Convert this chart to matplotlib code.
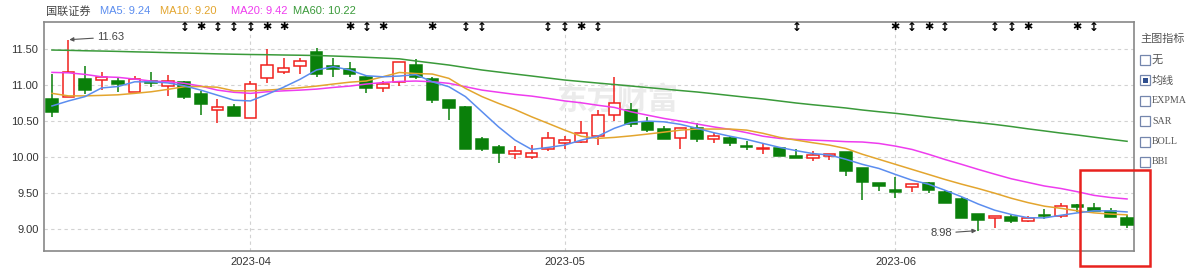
"""K-line chart for 国联证券 with MA5/10/20/60 overlays."""
import matplotlib
matplotlib.use("Agg")
import matplotlib.pyplot as plt
from matplotlib.patches import Rectangle

plt.rcParams["font.family"] = ["Liberation Sans", "Noto Sans CJK SC", "DejaVu Sans"]

W, H = 1200, 273

RED = "#f0201c"
GREEN = "#0a800a"
C_MA5 = "#5b8def"
C_MA10 = "#e3a52e"
C_MA20 = "#ee3cee"
C_MA60 = "#3a9a3a"

stock_name = "国联证券"

opens = [10.81, 10.83, 11.09, 11.065, 11.056, 10.91, 11.045, 10.99, 11.045, 10.875,
         10.66, 10.70, 10.55, 11.093, 11.18, 11.26, 11.46, 11.264, 11.22, 11.115,
         10.96, 11.04, 11.278, 11.09, 10.79, 10.70, 10.25, 10.135, 10.04, 10.00,
         10.11, 10.19, 10.21, 10.29, 10.58, 10.65, 10.49, 10.39, 10.27, 10.40,
         10.25, 10.27, 10.157, 10.11, 10.13, 10.014, 9.99, 10.02, 10.075, 9.843,
         9.635, 9.55, 9.58, 9.635, 9.52, 9.417, 9.21, 9.15, 9.17, 9.115,
         9.185, 9.185, 9.32, 9.30, 9.25, 9.16]
highs = [11.15, 11.63, 11.27, 11.185, 11.116, 11.125, 11.18, 11.14, 11.05, 10.92,
         10.80, 10.736, 11.056, 11.495, 11.37, 11.37, 11.51, 11.37, 11.32, 11.14,
         11.056, 11.315, 11.357, 11.115, 10.79, 10.71, 10.28, 10.167, 10.16, 10.167,
         10.35, 10.30, 10.50, 10.66, 11.115, 10.746, 10.56, 10.435, 10.41, 10.476,
         10.34, 10.30, 10.22, 10.19, 10.13, 10.107, 10.083, 10.04, 10.075, 9.843,
         9.635, 9.73, 9.63, 9.66, 9.54, 9.45, 9.21, 9.18, 9.194, 9.18,
         9.275, 9.365, 9.35, 9.357, 9.30, 9.194]
lows = [10.56, 10.83, 10.875, 10.93, 10.91, 10.907, 10.97, 10.85, 10.80, 10.59,
        10.48, 10.575, 10.55, 11.03, 11.16, 11.16, 11.107, 11.107, 11.115, 10.885,
        10.90, 10.99, 11.09, 10.746, 10.51, 10.12, 10.09, 9.92, 9.97, 9.97,
        10.09, 10.12, 10.19, 10.167, 10.50, 10.42, 10.35, 10.25, 10.107, 10.21,
        10.19, 10.157, 10.097, 10.05, 10.02, 9.99, 9.944, 9.96, 9.74, 9.41,
        9.53, 9.44, 9.52, 9.50, 9.37, 9.16, 8.98, 9.02, 9.09, 9.10,
        9.14, 9.16, 9.245, 9.255, 9.17, 9.02]
closes = [10.62, 11.18, 10.93, 11.107, 11.014, 11.09, 11.035, 11.056, 10.83, 10.735,
          10.70, 10.575, 11.02, 11.278, 11.24, 11.34, 11.16, 11.22, 11.16, 10.955,
          11.01, 11.315, 11.115, 10.79, 10.676, 10.12, 10.12, 10.06, 10.09, 10.06,
          10.27, 10.236, 10.33, 10.58, 10.754, 10.46, 10.375, 10.25, 10.41, 10.246,
          10.29, 10.19, 10.135, 10.13, 10.02, 9.99, 10.03, 10.04, 9.81, 9.657,
          9.60, 9.52, 9.625, 9.54, 9.37, 9.16, 9.125, 9.18, 9.115, 9.15,
          9.178, 9.32, 9.315, 9.255, 9.17, 9.065]

ma5 = [10.71, 10.78, 10.84, 10.96, 10.98, 11.045, 11.045, 11.03, 10.99, 10.93,
       10.86, 10.79, 10.78, 10.87, 10.97, 11.08, 11.21, 11.255, 11.21, 11.13,
       11.115, 11.125, 11.145, 11.045, 10.977, 10.84, 10.63, 10.42, 10.236, 10.107,
       10.135, 10.167, 10.236, 10.29, 10.40, 10.48, 10.50, 10.49, 10.455, 10.40,
       10.34, 10.29, 10.246, 10.19, 10.135, 10.09, 10.05, 10.03, 9.97, 9.90,
       9.843, 9.76, 9.68, 9.625, 9.54, 9.45, 9.35, 9.264, 9.205, 9.16,
       9.157, 9.194, 9.227, 9.255, 9.255, 9.24]
ma10 = [10.885, 10.85, 10.85, 10.857, 10.865, 10.885, 10.907, 10.94, 10.977, 10.98,
        10.97, 10.92, 10.92, 10.93, 10.945, 10.963, 10.986, 11.014, 11.04, 11.056,
        11.115, 11.175, 11.16, 11.153, 11.093, 10.954, 10.84, 10.746, 10.66, 10.56,
        10.468, 10.375, 10.29, 10.26, 10.274, 10.295, 10.32, 10.347, 10.375, 10.39,
        10.39, 10.39, 10.375, 10.33, 10.274, 10.236, 10.20, 10.167, 10.12, 10.04,
        9.97, 9.90, 9.83, 9.76, 9.69, 9.625, 9.565, 9.50, 9.43, 9.37,
        9.32, 9.29, 9.255, 9.227, 9.21, 9.20]
ma20 = [11.176, 11.17, 11.148, 11.115, 11.107, 11.083, 11.056, 11.046, 11.024, 10.986,
        10.93, 10.90, 10.885, 10.907, 10.92, 10.93, 10.944, 10.967, 10.986, 11.014,
        11.035, 11.05, 11.056, 11.046, 11.024, 10.977, 10.93, 10.90, 10.87, 10.847,
        10.815, 10.78, 10.754, 10.72, 10.69, 10.63, 10.583, 10.537, 10.50, 10.46,
        10.42, 10.385, 10.34, 10.29, 10.26, 10.246, 10.236, 10.227, 10.215, 10.21,
        10.19, 10.153, 10.107, 10.04, 9.967, 9.90, 9.83, 9.764, 9.70, 9.65,
        9.60, 9.565, 9.52, 9.47, 9.44, 9.42]
ma60 = [11.486, 11.482, 11.476, 11.472, 11.467, 11.461, 11.456, 11.45, 11.445, 11.439,
        11.433, 11.428, 11.424, 11.421, 11.417, 11.414, 11.41, 11.403, 11.395, 11.385,
        11.375, 11.364, 11.334, 11.306, 11.278, 11.243, 11.209, 11.181, 11.153, 11.126,
        11.098, 11.07, 11.049, 11.028, 11.008, 10.987, 10.966, 10.945, 10.924, 10.904,
        10.88, 10.855, 10.83, 10.807, 10.779, 10.751, 10.727, 10.705, 10.682, 10.654,
        10.63, 10.608, 10.582, 10.555, 10.529, 10.504, 10.479, 10.454, 10.425, 10.393,
        10.364, 10.334, 10.307, 10.277, 10.248, 10.22]

month_pos = [12, 31, 51]
month_labels = ["2023-04", "2023-05", "2023-06"]
y_ticks = [9.00, 9.50, 10.00, 10.50, 11.00, 11.50]

# signal markers along the top edge
updown_idx = [8, 10, 11, 12, 19, 25, 26, 30, 31, 33, 45, 52, 54, 57, 58, 63]
star_idx = [9, 13, 14, 18, 20, 23, 32, 51, 53, 59, 62]

side_title = "主图指标"
side_items = ["无", "均线", "EXPMA", "SAR", "BOLL", "BBI"]
side_checked = "均线"


def fx(x):
    return x / W


def fy(y):
    return 1 - y / H


fig = plt.figure(figsize=(12, 2.73), dpi=100)
ax = fig.add_axes([fx(44), fy(251), fx(1134) - fx(44), fy(22) - fy(251)])

n = len(closes)
for i in range(n):
    o, hi, lo, c = opens[i], highs[i], lows[i], closes[i]
    up = c >= o
    col = RED if up else GREEN
    ax.vlines(i, lo, hi, color=col, lw=1.1, zorder=2)
    bot = min(o, c)
    hgt = max(abs(c - o), 0.015)
    ax.add_patch(Rectangle((i - 0.35, bot), 0.7, hgt,
                           facecolor="white" if up else col,
                           edgecolor=col, lw=1.1, zorder=3))

x = list(range(n))
ax.plot(x, ma60, color=C_MA60, lw=1.1, zorder=4)
ax.plot(x, ma20, color=C_MA20, lw=1.1, zorder=4)
ax.plot(x, ma10, color=C_MA10, lw=1.1, zorder=4)
ax.plot(x, ma5, color=C_MA5, lw=1.1, zorder=4)

ax.set_xlim(-0.48, 65.42)
ax.set_ylim(8.698, 11.875)
ax.set_xticks(month_pos)
ax.set_xticklabels(month_labels)
ax.set_yticks(y_ticks)
ax.set_yticklabels([f"{v:.2f}" for v in y_ticks])
ax.tick_params(length=0, labelsize=8, colors="#333333", pad=4)
ax.grid(True, ls=(0, (3, 3)), color="#d2d2d2", lw=0.8, zorder=0)
ax.set_axisbelow(True)
for s in ax.spines.values():
    s.set_color("#888888")
    s.set_linewidth(1.2)

# watermark
ax.text(34.2, 10.78, "东方财富", fontsize=22, color="#ebebeb", fontweight="bold",
        ha="center", va="center", zorder=1)

# high / low annotations
i_hi = highs.index(max(highs))
i_lo = lows.index(min(lows))
ax.annotate(f"{max(highs):.2f}", xy=(i_hi + 0.05, max(highs)), xytext=(i_hi + 1.75, 11.665),
            fontsize=8, color="#444444", va="center", ha="left",
            arrowprops=dict(arrowstyle="-|>", color="#555555", lw=0.8, mutation_scale=6,
                            shrinkA=1, shrinkB=0))
ax.annotate(f"{min(lows):.2f}", xy=(i_lo - 0.1, min(lows)), xytext=(i_lo - 1.6, 8.945),
            fontsize=8, color="#444444", va="center", ha="right",
            arrowprops=dict(arrowstyle="-|>", color="#555555", lw=0.8, mutation_scale=6,
                            shrinkA=1, shrinkB=0))

for i in updown_idx:
    ax.text(i, 11.805, "↕", fontsize=8.5, fontweight="bold", ha="center", va="center",
            color="black", family=["DejaVu Sans"], zorder=5)
for i in star_idx:
    ax.text(i, 11.805, "✱", fontsize=8, ha="center", va="center",
            color="black", family=["DejaVu Sans"], zorder=5)

# legend row
fig.text(fx(46), fy(11), stock_name, fontsize=8, color="#444444", va="center")
legend = [("MA5", ma5[-1], C_MA5, 100), ("MA10", ma10[-1], C_MA10, 160),
          ("MA20", ma20[-1], C_MA20, 231), ("MA60", ma60[-1], C_MA60, 293)]
for name, val, col, px in legend:
    fig.text(fx(px), fy(11), f"{name}: {val:.2f}", fontsize=8, color=col, va="center")

# side panel
fig.text(fx(1140), fy(39), side_title, fontsize=8, color="#555555", va="center")
for k, item in enumerate(side_items):
    cy = 60 + k * 20.4
    fig.patches.append(Rectangle((fx(1140), fy(cy + 5)), fx(10), 10 / H,
                                 transform=fig.transFigure, facecolor="white",
                                 edgecolor="#7486ad", lw=0.9))
    if item == side_checked:
        fig.patches.append(Rectangle((fx(1142.5), fy(cy + 2.5)), fx(5), 5 / H,
                                     transform=fig.transFigure, facecolor="#2f4f8f",
                                     edgecolor="none"))
    fam = ["Noto Sans CJK SC"] if not item.isascii() else ["Liberation Serif"]
    fs = 8 if not item.isascii() else 7.2
    fig.text(fx(1152), fy(cy), item, fontsize=fs, color="#555555", va="center", family=fam)

# highlight box
fig.patches.append(Rectangle((fx(1080), fy(266)), fx(1150) - fx(1080), (266 - 170) / H,
                             transform=fig.transFigure, facecolor="none",
                             edgecolor="#e8221e", lw=1.8))

fig.savefig("out.png", dpi=100)
